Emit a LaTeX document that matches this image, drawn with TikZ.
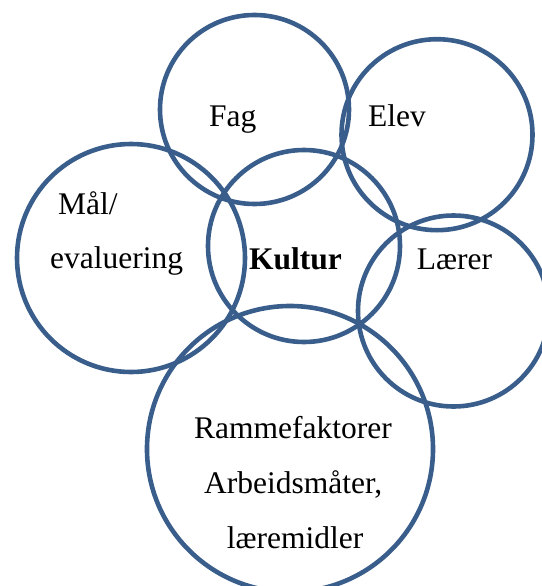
\documentclass[tikz,border=0pt]{standalone}
\usepackage{fontspec}
\setmainfont{Liberation Serif}
\definecolor{ringblue}{RGB}{58,94,140}
\begin{document}
\begin{tikzpicture}[x=1pt,y=-1pt,
  ring/.style={draw=ringblue,line width=4.6pt,circle,inner sep=0pt,minimum size=#1},
  lbl/.style={anchor=base west,inner sep=0pt,font=\fontsize{31.5}{36}\selectfont}]
\useasboundingbox (0,0) rectangle (541,586);
\node[ring=189pt] (fag) at (254.5,109.5) {};
\node[ring=191pt] (elev) at (437,134.7) {};
\node[ring=228pt] (maal) at (131,258) {};
\node[ring=192pt] (kultur) at (304,246) {};
\node[ring=191pt] (laerer) at (453.5,311) {};
\node[ring=286pt] (ramme) at (290,449) {};
\node[lbl] (tfag) at (209,126.7) {Fag};
\node[lbl] (telev) at (368,126.7) {Elev};
\node[lbl] (tmaal) at (58,214) {Mål/};
\node[lbl] (teval) at (50,268) {evaluering};
\node[lbl] (tkultur) at (249,269) {\bfseries Kultur};
\node[lbl] (tlaerer) at (416.7,269) {Lærer};
\node[lbl] (tramme) at (194,438) {Rammefaktorer};
\node[lbl] (tarb) at (204,493) {Arbeidsmåter,};
\node[lbl] (tlaere) at (226.7,548) {læremidler};
\end{tikzpicture}
\end{document}
